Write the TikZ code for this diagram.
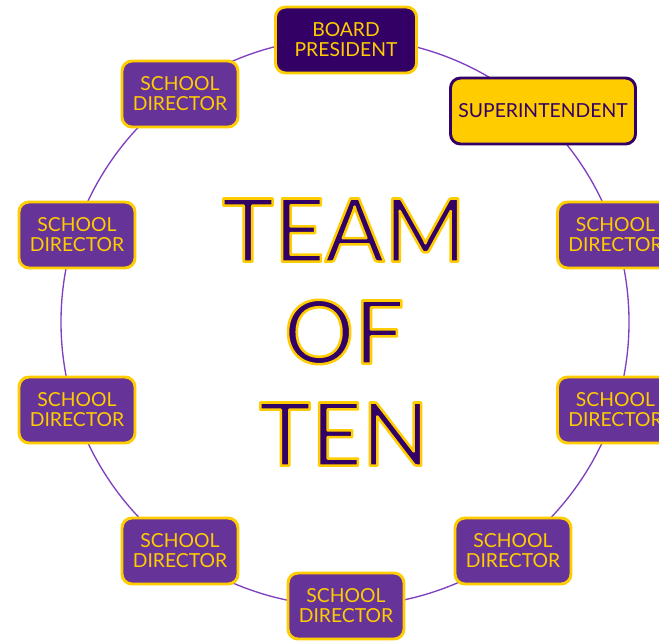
\documentclass[tikz,border=0pt]{standalone}
\usepackage{fontspec}
\setmainfont{Lato}
\usetikzlibrary{backgrounds}
\definecolor{gold}{HTML}{FFCC00}
\definecolor{darkpurple}{HTML}{330066}
\definecolor{sdpurple}{HTML}{663399}
\definecolor{ringpurple}{HTML}{7F3FBF}
\newcommand{\outlinedtext}[1]{\special{pdf:literal direct 2 Tr 1.9 w 1 0.8 0 RG 1 j}#1\special{pdf:literal direct 0 Tr}}
\begin{document}
\begin{tikzpicture}[x=0.75pt,y=0.75pt,
  box/.style={rounded corners=7.5pt, line width=2.2pt, align=center,
    font=\fontsize{14.5}{15}\selectfont, inner sep=0pt, minimum height=49.5pt},
  sd/.style={box, fill=sdpurple, draw=gold, text=gold, minimum width=87pt},
  bpbox/.style={box, fill=darkpurple, draw=gold, text=gold, minimum width=105.75pt},
  supbox/.style={box, fill=gold, draw=darkpurple, text=darkpurple, minimum width=138.75pt},
  ring/.style={draw=ringpurple, line width=1pt},
  title/.style={align=center, text=darkpurple, font=\fontsize{66}{76.5}\selectfont}]
\useasboundingbox (0,0) rectangle (659,-640);
\coordinate (c) at (345,-322);
\node[bpbox] (bp) at (346,-40) {BOARD\\PRESIDENT};
\node[supbox] (sup) at (543,-111) {SUPERINTENDENT};
\node[sd] (r1) at (615.5,-235) {SCHOOL\\DIRECTOR};
\node[sd] (r2) at (615.5,-410) {SCHOOL\\DIRECTOR};
\node[sd] (br) at (513,-551) {SCHOOL\\DIRECTOR};
\node[sd] (b) at (346,-606) {SCHOOL\\DIRECTOR};
\node[sd] (bl) at (180,-551) {SCHOOL\\DIRECTOR};
\node[sd] (l2) at (77,-410) {SCHOOL\\DIRECTOR};
\node[sd] (l1) at (77,-235) {SCHOOL\\DIRECTOR};
\node[sd] (tl) at (180,-94) {SCHOOL\\DIRECTOR};
\node[title] (ttl) at (344,-332) {\outlinedtext{TEAM\\OF\\TEN}};
\begin{scope}[on background layer]
\draw[ring] (c) circle[radius=284];
\end{scope}
\end{tikzpicture}
\end{document}
